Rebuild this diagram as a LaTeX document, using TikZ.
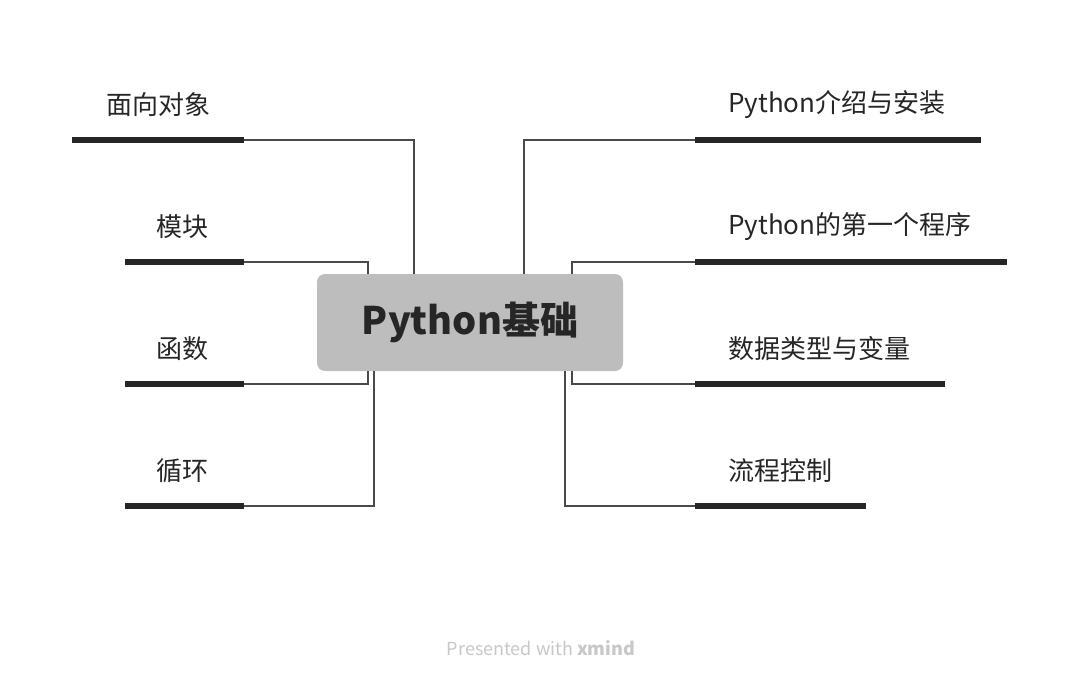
\documentclass[tikz,border=0pt]{standalone}
\usepackage{fontspec}
\setmainfont{Noto Sans CJK SC}
\definecolor{boxgray}{HTML}{BDBDBD}
\definecolor{inkc}{HTML}{262626}
\definecolor{linec}{HTML}{4A4A4A}
\definecolor{footc}{HTML}{C8C8C8}
\begin{document}
\begin{tikzpicture}[x=1pt,y=-1pt,
  topic/.style={anchor=west,inner sep=0pt,font=\fontsize{26}{26}\selectfont,text=inkc},
  bar/.style={line width=6pt,draw=inkc},
  conn/.style={line width=1.5pt,draw=linec},
  central/.style={fill=boxgray,rounded corners=8pt,minimum width=306pt,minimum height=97pt,inner sep=0pt,
    font=\fontsize{38}{38}\selectfont\bfseries,text=inkc}]
\useasboundingbox (0,0) rectangle (1080,683);
\fill[white] (0,0) rectangle (1080,683);
% central
\node[central] (c) at (470,322.5) {Python基础};
% left bars
\coordinate (l1s) at (72,140);  \coordinate (l1e) at (244,140);
\coordinate (l2s) at (125,262); \coordinate (l2e) at (244,262);
\coordinate (l3s) at (125,384); \coordinate (l3e) at (244,384);
\coordinate (l4s) at (125,506); \coordinate (l4e) at (244,506);
% right bars
\coordinate (r1s) at (695,140); \coordinate (r1e) at (981,140);
\coordinate (r2s) at (695,262); \coordinate (r2e) at (1007,262);
\coordinate (r3s) at (695,384); \coordinate (r3e) at (945,384);
\coordinate (r4s) at (695,506); \coordinate (r4e) at (866,506);
% elbow columns
\coordinate (l1x) at (414,0); \coordinate (l2x) at (368,0);
\coordinate (l3x) at (368,0); \coordinate (l4x) at (374,0);
\coordinate (r1x) at (524,0); \coordinate (r2x) at (572,0);
\coordinate (r3x) at (572,0); \coordinate (r4x) at (565,0);
% connectors
\draw[conn] (l1e) -| (l1x |- c.north);
\draw[conn] (l2e) -| (l2x |- c.north);
\draw[conn] (l3e) -| (l3x |- c.south);
\draw[conn] (l4e) -| (l4x |- c.south);
\draw[conn] (r1s) -| (r1x |- c.north);
\draw[conn] (r2s) -| (r2x |- c.north);
\draw[conn] (r3s) -| (r3x |- c.south);
\draw[conn] (r4s) -| (r4x |- c.south);
% bars
\draw[bar] (l1s) -- (l1e);
\draw[bar] (l2s) -- (l2e);
\draw[bar] (l3s) -- (l3e);
\draw[bar] (l4s) -- (l4e);
\draw[bar] (r1s) -- (r1e);
\draw[bar] (r2s) -- (r2e);
\draw[bar] (r3s) -- (r3e);
\draw[bar] (r4s) -- (r4e);
% labels
\node[topic] (t1) at (106,105) {面向对象};
\node[topic] (t2) at (156,227) {模块};
\node[topic] (t3) at (156,349) {函数};
\node[topic] (t4) at (156,471) {循环};
\node[topic] (t5) at (728,105) {Python介绍与安装};
\node[topic] (t6) at (728,227) {Python的第一个程序};
\node[topic] (t7) at (728,349) {数据类型与变量};
\node[topic] (t8) at (728,471) {流程控制};
% footer
\node[inner sep=0pt,text=footc,font=\fontsize{18}{18}\selectfont] (foot) at (541,648) {Presented with \textbf{xmind}};
\end{tikzpicture}
\end{document}
